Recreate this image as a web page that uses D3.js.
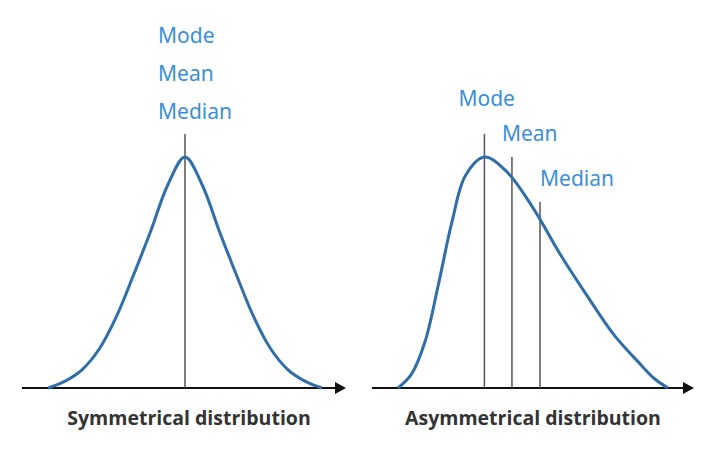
<!DOCTYPE html>
<html lang="en">
<head>
<meta charset="UTF-8">
<title>Mode Mean Median</title>
<script src="https://d3js.org/d3.v7.min.js"></script>
<style>
  body { margin: 0; background: #fff; }
  .lbl { font-family: "Comic Sans MS", "Noto Sans", sans-serif; font-size: 21px; fill: #3a8fd8; }
  .ttl { font-family: "Open Sans", "Noto Sans", sans-serif; font-size: 19.5px; font-weight: bold; fill: #333; }
</style>
</head>
<body>
<svg width="725" height="463"></svg>
<script>
// symmetrical curve (x in sd-like units, y relative height)
const symX = [-4, -3.5, -3, -2.5, -2, -1.5, -1, -0.5, 0, 0.5, 1, 1.5, 2, 2.5, 3, 3.5, 4];
const symY = [0.0, 0.03, 0.08, 0.17, 0.31, 0.49, 0.68, 0.88, 1.0, 0.88, 0.68, 0.49, 0.31, 0.17, 0.08, 0.03, 0.0];
// skewed curve
const asymX = [0, 0.5, 1, 1.5, 2, 2.5, 3.2, 4, 5, 6, 7, 8, 9, 9.5, 10];
const asymY = [0.0, 0.06, 0.2, 0.45, 0.72, 0.92, 1.0, 0.94, 0.78, 0.58, 0.4, 0.23, 0.1, 0.04, 0.0];
// marker lines
const symMarks = [{x: 0, top: 1.1}];
const symLabels = ["Mode", "Mean", "Median"];
const asymMarks = [
  {name: "Mode", x: 3.2, top: 1.1},
  {name: "Mean", x: 4.22, top: 1.0},
  {name: "Median", x: 5.26, top: 0.805}
];
const titles = ["Symmetrical distribution", "Asymmetrical distribution"];

const svg = d3.select("svg");
const baseY = 388;
const y = d3.scaleLinear().domain([0, 1]).range([baseY, 157]);

function axis(x0, x1) {
  svg.append("line").attr("x1", x0).attr("x2", x1 - 4).attr("y1", baseY).attr("y2", baseY)
    .attr("stroke", "#111").attr("stroke-width", 2);
  svg.append("path").attr("d", `M${x1},${baseY} L${x1 - 11},${baseY - 6} L${x1 - 11},${baseY + 6} Z`)
    .attr("fill", "#111");
}

function curve(xs, ys, x) {
  const line = d3.line().x(d => x(d[0])).y(d => y(d[1])).curve(d3.curveCatmullRom.alpha(0.5));
  svg.append("path").datum(xs.map((v, i) => [v, ys[i]])).attr("d", line)
    .attr("fill", "none").attr("stroke", "#2f6ea8").attr("stroke-width", 3);
}

function marks(data, x) {
  svg.selectAll(null).data(data).enter().append("line")
    .attr("x1", d => x(d.x)).attr("x2", d => x(d.x))
    .attr("y1", d => y(d.top)).attr("y2", baseY)
    .attr("stroke", "#555").attr("stroke-width", 1.5);
}

// left panel
const xL = d3.scaleLinear().domain([-4, 4]).range([48, 322]);
axis(22, 346);
marks(symMarks, xL);
curve(symX, symY, xL);
svg.selectAll(null).data(symLabels).enter().append("text").attr("class", "lbl")
  .attr("x", 158).attr("y", (d, i) => 43 + i * 38).text(d => d);
svg.append("text").attr("class", "ttl").attr("x", 189).attr("y", 425)
  .attr("text-anchor", "middle").text(titles[0]);

// right panel
const xR = d3.scaleLinear().domain([0, 10]).range([398, 668]);
axis(372, 694);
marks(asymMarks, xR);
curve(asymX, asymY, xR);
svg.selectAll(null).data(asymMarks).enter().append("text").attr("class", "lbl")
  .attr("x", (d, i) => xR(d.x) + [-26, -10, 0][i])
  .attr("y", (d, i) => [106, 141, 186][i]).text(d => d.name);
svg.append("text").attr("class", "ttl").attr("x", 533).attr("y", 425)
  .attr("text-anchor", "middle").text(titles[1]);
</script>
</body>
</html>
